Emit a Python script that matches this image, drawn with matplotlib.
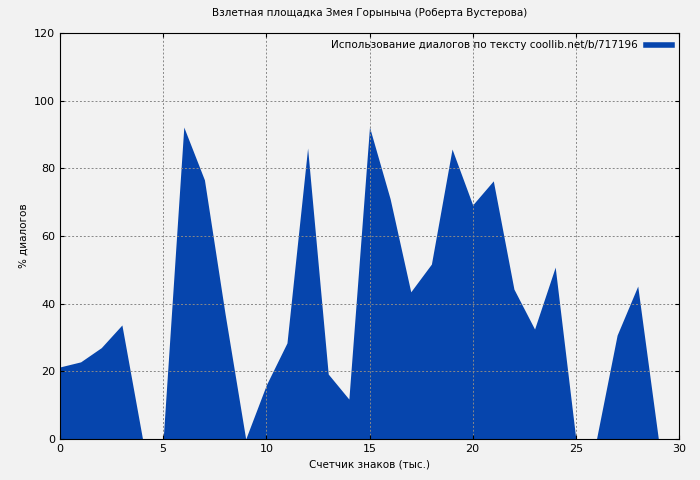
import matplotlib
matplotlib.use("Agg")
import matplotlib.pyplot as plt

# values
x = list(range(30))
y = [21.3, 22.8, 27, 33.7, 0, 0, 92.2, 76.6, 37, 0,
     16, 28.4, 86, 19.2, 11.8, 92.2, 71, 43.5, 51.7, 85.7,
     69.2, 76.3, 44.3, 32.5, 50.8, 0, 0, 30.7, 45.2, 0]

title = "Взлетная площадка Змея Горыныча (Роберта Вустерова)"
label = "Использование диалогов по тексту coollib.net/b/717196"
color = "#0645ad"
bg = "#f2f2f2"

fig = plt.figure(figsize=(7, 4.8), dpi=100, facecolor=bg)
ax = fig.add_axes([60/700, 41/480, 619/700, 406/480], facecolor=bg)

ax.fill_between(x, y, 0, color=color, linewidth=0)
ax.plot([], [], color=color, linewidth=4, label=label)

ax.set_xlim(0, 30)
ax.set_ylim(0, 120)
ax.set_xticks(range(0, 31, 5))
ax.set_yticks(range(0, 121, 20))
ax.grid(True, color="#888888", linestyle=(0, (2, 2)), linewidth=0.7)
ax.tick_params(labelsize=8, direction="in", length=3, top=True, right=True)

ax.set_title(title, fontsize=7.5, pad=12)
ax.set_xlabel("Счетчик знаков (тыс.)", fontsize=7.5)
ax.set_ylabel("% диалогов", fontsize=7.5)

leg = ax.legend(loc="upper right", fontsize=7.5, frameon=False, markerfirst=False,
                handlelength=2.5, borderaxespad=0.3)

fig.savefig("out.png", dpi=100, facecolor=bg)
